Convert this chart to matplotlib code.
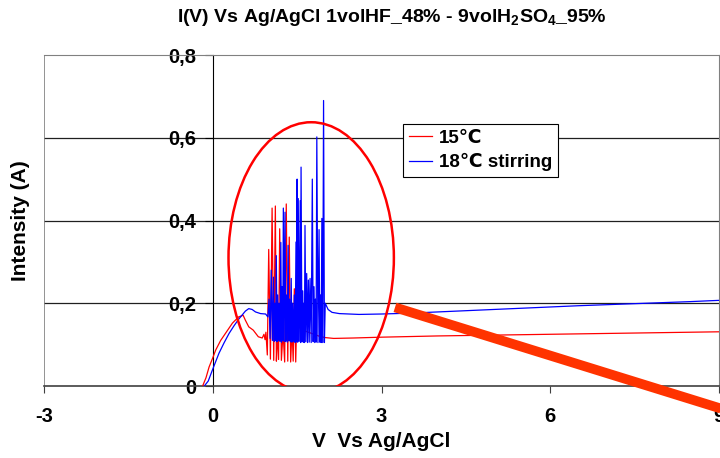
import numpy as np
import matplotlib
matplotlib.use("Agg")
from matplotlib import pyplot as plt
from matplotlib.patches import Ellipse

plt.rcParams['font.family'] = ['Liberation Sans', 'DejaVu Sans']
plt.rcParams['font.weight'] = 'bold'
plt.rcParams['axes.unicode_minus'] = False
plt.rcParams['mathtext.fontset'] = 'custom'
plt.rcParams['mathtext.rm'] = 'Liberation Sans:bold'
plt.rcParams['mathtext.default'] = 'rm'

# ---- data ----
# 15 C : rise before the oscillations
red_start_x = [-0.18, -0.12, -0.065, 0.0, 0.053, 0.14, 0.23, 0.35, 0.46, 0.54,
               0.58, 0.64, 0.72, 0.81, 0.88, 0.91, 0.93]
red_start_y = [0.0, 0.02, 0.046, 0.068, 0.087, 0.11, 0.128, 0.152, 0.167, 0.171,
               0.159, 0.143, 0.135, 0.119, 0.116, 0.125, 0.112]
# 15 C : oscillation peaks and the troughs that follow each of them
red_peak_x = [0.945, 0.995, 1.055, 1.113, 1.15, 1.19, 1.25, 1.307, 1.36, 1.41, 1.45, 1.5]
red_peak_y = [0.13, 0.33, 0.43, 0.435, 0.13, 0.38, 0.13, 0.44, 0.36, 0.14, 0.235, 0.2]
red_trough_y = [0.075, 0.065, 0.062, 0.06, 0.064, 0.062, 0.058, 0.06, 0.058, 0.06, 0.058, 0.14]
# 15 C : after the oscillations
red_end_x = [1.6, 1.7, 1.8, 1.9, 2.0, 2.15, 2.5, 3.0, 4.0, 5.0, 6.0, 7.0, 8.0, 9.0]
red_end_y = [0.135, 0.13, 0.125, 0.12, 0.117, 0.115, 0.116, 0.118, 0.121, 0.123,
             0.125, 0.127, 0.129, 0.131]

# 18 C stirring
blue_start_x = [-0.15, -0.08, -0.005, 0.11, 0.2, 0.29, 0.38, 0.47, 0.58, 0.64,
                0.70, 0.76, 0.85, 0.94, 0.98]
blue_start_y = [0.0, 0.012, 0.039, 0.079, 0.104, 0.127, 0.146, 0.163, 0.181, 0.187,
                0.185, 0.179, 0.175, 0.174, 0.167]
blue_peak_x = [1.00, 1.04, 1.08, 1.105, 1.13, 1.155, 1.18, 1.21, 1.235, 1.255, 1.285,
               1.31, 1.34, 1.365, 1.395, 1.42, 1.45, 1.48, 1.50, 1.52, 1.555, 1.57,
               1.60, 1.62, 1.64, 1.67, 1.70, 1.73, 1.77, 1.80, 1.825, 1.85, 1.89,
               1.915, 1.94, 1.97]
blue_peak_y = [0.21, 0.28, 0.263, 0.2, 0.315, 0.22, 0.2, 0.347, 0.24, 0.43, 0.42,
               0.22, 0.34, 0.21, 0.26, 0.2, 0.22, 0.348, 0.50, 0.453, 0.448, 0.529,
               0.23, 0.2, 0.388, 0.272, 0.256, 0.26, 0.50, 0.24, 0.21, 0.602, 0.378,
               0.22, 0.405, 0.69]
blue_trough_y = [0.115, 0.11, 0.108, 0.11, 0.107, 0.11, 0.108, 0.106, 0.11, 0.107,
                 0.108, 0.106, 0.109, 0.107, 0.106, 0.108, 0.105, 0.107, 0.106, 0.108,
                 0.105, 0.107, 0.106, 0.105, 0.107, 0.105, 0.106, 0.105, 0.107, 0.105,
                 0.106, 0.105, 0.106, 0.105, 0.105, 0.105]
blue_end_x = [2.0, 2.05, 2.12, 2.25, 2.6, 3.0, 3.5, 4.5, 5.5, 6.5, 7.5, 8.5, 9.0]
blue_end_y = [0.2, 0.185, 0.178, 0.175, 0.173, 0.174, 0.176, 0.182, 0.188, 0.194,
              0.199, 0.204, 0.207]

x_ticks = [-3, 0, 3, 6, 9]
y_ticks = [0, 0.2, 0.4, 0.6, 0.8]
y_ticklabels = ['0', '0,2', '0,4', '0,6', '0,8']


def build(start_x, start_y, peak_x, peak_y, trough_y, end_x, end_y):
    xs = list(start_x)
    ys = list(start_y)
    for i in range(len(peak_x)):
        xs.append(peak_x[i])
        ys.append(peak_y[i])
        nxt = peak_x[i + 1] if i + 1 < len(peak_x) else end_x[0]
        xs.append((peak_x[i] + nxt) / 2)
        ys.append(trough_y[i])
    xs += end_x
    ys += end_y
    return xs, ys


red_x, red_y = build(red_start_x, red_start_y, red_peak_x, red_peak_y, red_trough_y,
                     red_end_x, red_end_y)
blue_x, blue_y = build(blue_start_x, blue_start_y, blue_peak_x, blue_peak_y,
                       blue_trough_y, blue_end_x, blue_end_y)

fig = plt.figure(figsize=(7.2, 4.58), dpi=100)
ax = fig.add_axes([44 / 720, 1 - 386 / 458, 675 / 720, 331 / 458])

ax.set_xlim(-3, 9)
ax.set_ylim(0, 0.8)

for yv in y_ticks[1:-1]:
    ax.axhline(yv, color='#202020', lw=0.9, zorder=1)
ax.axvline(-3, color='#808080', lw=1.2, zorder=1)

ax.plot(red_x, red_y, color='#ff0000', lw=0.9, label='15\u2103', zorder=3)
ax.plot(blue_x, blue_y, color='#0000ff', lw=0.9, label='18\u2103 stirring', zorder=4)

# hand drawn marks on the original
ax.add_patch(Ellipse((1.75, 0.31), 2.94, 0.655, fill=False, edgecolor='#ff0000',
                     lw=1.8, zorder=5))
ax.plot([3.24, 9.4], [0.19, -0.07], color='#ff3300', lw=7, solid_capstyle='butt',
        clip_on=False, zorder=6)

ax.spines['left'].set_position(('data', 0))
ax.spines['left'].set_color('black')
ax.spines['left'].set_zorder(2)
ax.spines['top'].set_color('#808080')
ax.spines['right'].set_color('#808080')
ax.spines['bottom'].set_color('#404040')
ax.spines['bottom'].set_linewidth(1.2)

ax.set_xticks(x_ticks)
ax.set_yticks(y_ticks)
ax.set_yticklabels(y_ticklabels)
ax.tick_params(axis='x', direction='out', length=5, pad=10, labelsize=14.5,
               color='#404040')
ax.tick_params(axis='y', direction='out', length=6, pad=6, labelsize=14.5)

ax.set_xlabel('V  Vs Ag/AgCl', fontsize=15, fontweight='bold')
ax.xaxis.set_label_coords(0.5, -0.14)
ax.set_ylabel('Intensity (A)', fontsize=15, fontweight='bold')
ax.yaxis.set_label_coords(-0.02, 0.5)

fig.text(392 / 720, 1 - 18 / 458,
         'I(V) Vs Ag/AgCl 1volHF_48% - 9volH$_2$SO$_4$_95%',
         ha='center', va='center', fontsize=14, fontweight='bold')

leg = ax.legend(loc='upper left', bbox_to_anchor=(0.532, 0.792), borderaxespad=0,
                fancybox=False, framealpha=1, edgecolor='black',
                prop={'weight': 'bold', 'size': 13.5}, handlelength=1.25,
                handletextpad=0.35, labelspacing=0.35, borderpad=0.3)
leg.get_frame().set_linewidth(0.8)
leg.set_zorder(7)

fig.savefig('out.png', dpi=100)
